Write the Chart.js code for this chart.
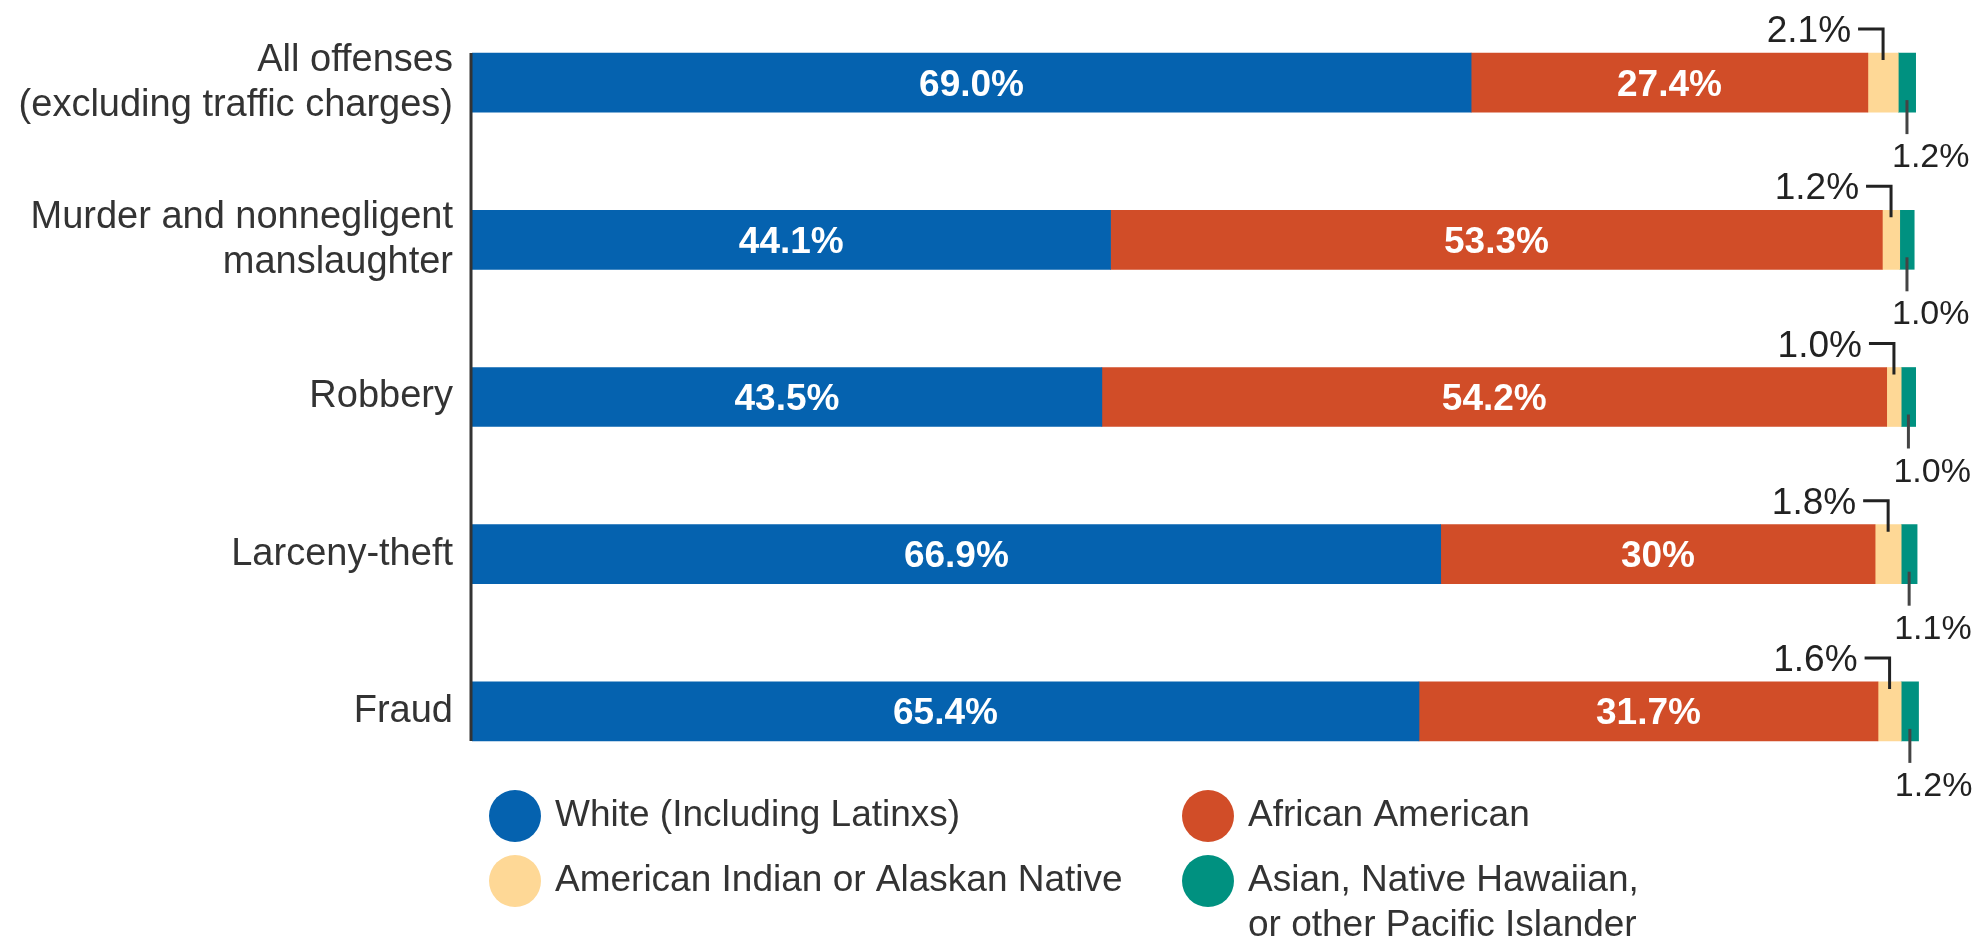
<!DOCTYPE html>
<html>
<head>
<meta charset="utf-8">
<script src="https://cdn.jsdelivr.net/npm/chart.js@4"></script>
<style>
  html, body { margin: 0; padding: 0; background: #fff; }
  #wrap { width: 1985px; height: 940px; position: relative; }
</style>
</head>
<body>
<div id="wrap"><canvas id="chart" width="1985" height="940"></canvas></div>
<script>
// --- data (as printed on the chart) ---
const offenses = [
  ["All offenses", "(excluding traffic charges)"],
  ["Murder and nonnegligent", "manslaughter"],
  "Robbery",
  "Larceny-theft",
  "Fraud",
];
const white = ["69.0", "44.1", "43.5", "66.9", "65.4"];
const africanAmerican = ["27.4", "53.3", "54.2", "30", "31.7"];
const americanIndian = ["2.1", "1.2", "1.0", "1.8", "1.6"];
const asianPacific = ["1.2", "1.0", "1.0", "1.1", "1.2"];

const seriesNames = [
  ["White (Including Latinxs)"],
  ["African American"],
  ["American Indian or Alaskan Native"],
  ["Asian, Native Hawaiian,", "or other Pacific Islander"],
];

const colors = {
  blue: "#0562AF",
  red: "#D14D28",
  yellow: "#FED896",
  teal: "#009180",
  text: "#333333",
  ink: "#222222",
};

const FONT = "'Liberation Sans', Arial, Helvetica, sans-serif";

// labels inside the two big segments, leader-line labels for the thin ones
const segmentLabels = {
  id: "segmentLabels",
  afterDatasetsDraw(chart) {
    const ctx = chart.ctx;
    ctx.save();
    [0, 1].forEach(di => {
      const meta = chart.getDatasetMeta(di);
      const raw = chart.data.datasets[di].rawText;
      meta.data.forEach((bar, i) => {
        const { x, base, y } = bar.getProps(["x", "base", "y"], true);
        ctx.font = `bold 37px ${FONT}`;
        ctx.fillStyle = "#fff";
        ctx.textAlign = "center";
        ctx.textBaseline = "alphabetic";
        ctx.fillText(raw[i] + "%", (x + base) / 2, y + 13);
      });
    });

    // American Indian: label above, bracket leader
    const yMeta = chart.getDatasetMeta(2);
    const yRaw = chart.data.datasets[2].rawText;
    yMeta.data.forEach((bar, i) => {
      const { x, base, y, height } = bar.getProps(["x", "base", "y", "height"], true);
      const vx = (x + base) / 2;
      const top = y - height / 2;
      ctx.strokeStyle = colors.ink;
      ctx.lineWidth = 3;
      ctx.beginPath();
      ctx.moveTo(vx - 25, top - 24);
      ctx.lineTo(vx, top - 24);
      ctx.lineTo(vx, top + 7);
      ctx.stroke();
      ctx.font = `37px ${FONT}`;
      ctx.fillStyle = colors.ink;
      ctx.textAlign = "right";
      ctx.textBaseline = "alphabetic";
      ctx.fillText(yRaw[i] + "%", vx - 32, top - 11);
    });

    // Asian / Pacific Islander: label below
    const tMeta = chart.getDatasetMeta(3);
    const tRaw = chart.data.datasets[3].rawText;
    tMeta.data.forEach((bar, i) => {
      const { x, base, y, height } = bar.getProps(["x", "base", "y", "height"], true);
      const vx = (x + base) / 2;
      const bottom = y + height / 2;
      ctx.strokeStyle = "#444";
      ctx.lineWidth = 3;
      ctx.beginPath();
      ctx.moveTo(vx, bottom - 12);
      ctx.lineTo(vx, bottom + 22);
      ctx.stroke();
      ctx.font = `34px ${FONT}`;
      ctx.fillStyle = colors.ink;
      ctx.textAlign = "left";
      ctx.fillText(tRaw[i] + "%", vx - 15, bottom + 55);
    });
    ctx.restore();
  },
};

// vertical baseline only spanning the bars
const axisLine = {
  id: "axisLine",
  afterDatasetsDraw(chart) {
    const meta = chart.getDatasetMeta(0);
    const first = meta.data[0], last = meta.data[meta.data.length - 1];
    const ctx = chart.ctx;
    ctx.save();
    ctx.strokeStyle = colors.text;
    ctx.lineWidth = 3;
    ctx.beginPath();
    const ax = chart.chartArea.left - 1;
    ctx.moveTo(ax, first.y - first.height / 2);
    ctx.lineTo(ax, last.y + last.height / 2);
    ctx.stroke();
    ctx.restore();
  },
};

// two-column legend with round swatches
const circleLegend = {
  id: "circleLegend",
  afterDraw(chart) {
    const ctx = chart.ctx;
    const cols = [515, 1208], rows = [816, 881];
    ctx.save();
    chart.data.datasets.forEach((ds, i) => {
      const cx = cols[i % 2], cy = rows[Math.floor(i / 2)];
      ctx.fillStyle = ds.backgroundColor;
      ctx.beginPath();
      ctx.arc(cx, cy, 26, 0, Math.PI * 2);
      ctx.fill();
      ctx.font = `37px ${FONT}`;
      ctx.fillStyle = colors.text;
      ctx.textAlign = "left";
      ctx.textBaseline = "alphabetic";
      seriesNames[i].forEach((line, li) => ctx.fillText(line, cx + 40, cy + 10 + li * 45));
    });
    ctx.restore();
  },
};

const series = [white, africanAmerican, americanIndian, asianPacific];
const seriesColors = [colors.blue, colors.red, colors.yellow, colors.teal];

new Chart(document.getElementById("chart"), {
  type: "bar",
  data: {
    labels: offenses,
    datasets: series.map((s, i) => ({
      label: seriesNames[i].join(" "),
      data: s.map(Number),
      rawText: s,
      backgroundColor: seriesColors[i],
      borderWidth: 0,
      barThickness: 59,
    })),
  },
  options: {
    indexAxis: "y",
    responsive: false,
    animation: false,
    devicePixelRatio: 1,
    layout: { padding: { top: 4, bottom: 150, right: 65, left: 0 } },
    scales: {
      x: { stacked: true, min: 0, max: 100, display: false },
      y: {
        stacked: true,
        grid: { display: false, drawTicks: false },
        border: { display: false },
        ticks: {
          padding: 19,
          color: colors.text,
          font: { family: FONT, size: 38, lineHeight: 1.18 },
        },
        afterFit: scale => {
          scale.width = 472;
          scale.paddingTop = 0;
          scale.paddingBottom = 0;
        },
      },
    },
    plugins: {
      legend: { display: false },
      tooltip: { enabled: false },
    },
  },
  plugins: [segmentLabels, axisLine, circleLegend],
});
</script>
</body>
</html>
